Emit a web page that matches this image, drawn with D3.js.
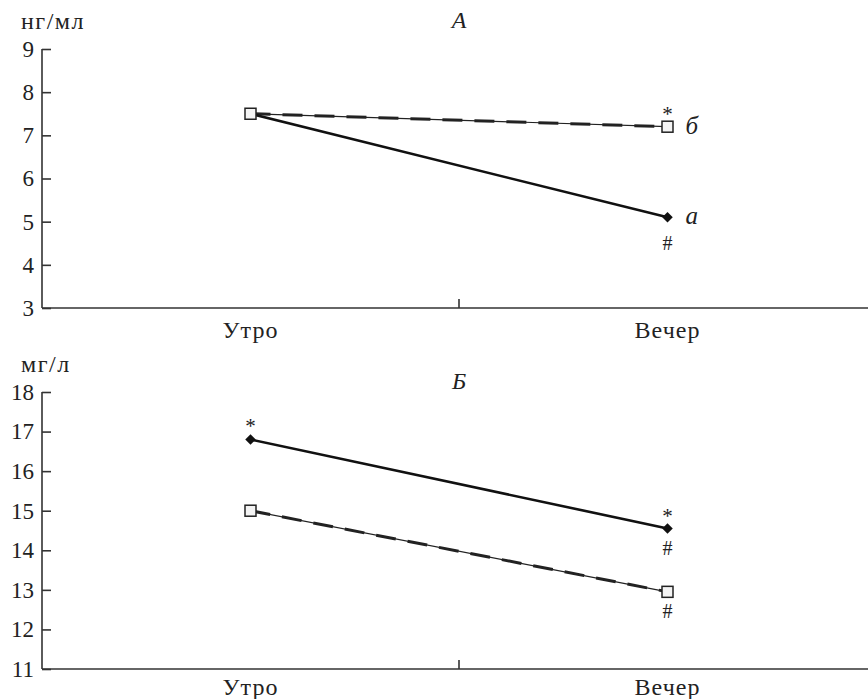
<!DOCTYPE html>
<html lang="ru">
<head>
<meta charset="UTF-8">
<script src="https://cdnjs.cloudflare.com/ajax/libs/d3/7.8.5/d3.min.js"></script>
<title>Утро / Вечер</title>
<style>
  body { margin: 0; background: #fff; }
  svg { display: block; }
  .axis path, .axis line { stroke: #333; stroke-width: 1.6; }
</style>
</head>
<body>
<svg width="868" height="699"></svg>
<script>
// categories
const times = ['Утро', 'Вечер']

// panel A, нг/мл
const panelA_a = [7.5, 5.1]
const panelA_b = [7.5, 7.2]
const panelA_ticks = [3, 4, 5, 6, 7, 8, 9]

// panel Б, мг/л
const panelB_a = [16.8, 14.55]
const panelB_b = [15.0, 12.95]
const panelB_ticks = [11, 12, 13, 14, 15, 16, 17, 18]

// significance marks: [time index, series, symbol, side]
const marksA = [[1, 'b', '*', 'above'], [1, 'a', '#', 'below']]
const marksB = [[0, 'a', '*', 'above'], [1, 'a', '*', 'above'], [1, 'a', '#', 'below'], [1, 'b', '#', 'below']]

const serif = "'Liberation Serif', 'Times New Roman', serif"
const svg = d3.select('svg')
const left = 42, right = 876

const panels = [
  {title: 'А', unit: 'нг/мл', a: panelA_a, b: panelA_b, ticks: panelA_ticks, marks: marksA,
   top: 49, bot: 308, titleY: 28, hashGap: 33, labelPad: 13, seriesLabels: true},
  {title: 'Б', unit: 'мг/л', a: panelB_a, b: panelB_b, ticks: panelB_ticks, marks: marksB,
   top: 392, bot: 669, titleY: 389, hashGap: 26, labelPad: 9, seriesLabels: false}
]

function txt(x, y, s, size, italic) {
  return svg.append('text')
    .attr('x', x).attr('y', y)
    .attr('font-family', serif)
    .attr('font-size', size)
    .attr('font-style', italic ? 'italic' : 'normal')
    .attr('fill', '#222')
    .text(s)
}

panels.forEach(p => {
  const x = d3.scaleBand().domain(times).range([left, right])
  const cx = d => x(d) + x.bandwidth() / 2
  const y = d3.scaleLinear()
    .domain(d3.extent(p.ticks))
    .range([p.bot, p.top])

  // y axis
  const ya = svg.append('g')
    .attr('class', 'axis')
    .attr('transform', 'translate(' + left + ',0)')
    .call(d3.axisLeft(y).tickValues(p.ticks).tickFormat(d3.format('d'))
      .tickSize(-9).tickPadding(8).tickSizeOuter(0))
  ya.attr('font-family', serif).attr('font-size', 23)
  ya.selectAll('text').attr('fill', '#222')
  ya.select('.domain').attr('d', 'M0,' + p.bot + 'V' + p.top)

  // x axis
  const xa = svg.append('g')
    .attr('class', 'axis')
    .attr('transform', 'translate(0,' + p.bot + ')')
    .call(d3.axisBottom(x).tickSize(0).tickPadding(p.labelPad).tickSizeOuter(0))
  xa.attr('font-family', serif).attr('font-size', 24)
  xa.selectAll('text').attr('fill', '#222').attr('letter-spacing', 1)
  xa.select('.domain').attr('d', 'M' + left + ',0H868')
  xa.append('line')
    .attr('x1', x(times[1])).attr('x2', x(times[1]))
    .attr('y1', 0).attr('y2', -9)

  // unit and title
  txt(21, p.top - 20, p.unit, 24, false).attr('letter-spacing', 1.5)
  txt(x(times[1]), p.titleY, p.title, 24, true).attr('text-anchor', 'middle')

  const line = d3.line().x((d, i) => cx(times[i])).y(d => y(d))

  // series б: dashed (thin line + thick dashes)
  svg.append('path').datum(p.b).attr('d', line)
    .attr('fill', 'none').attr('stroke', '#222').attr('stroke-width', 1.2)
  svg.append('path').datum(p.b).attr('d', line)
    .attr('fill', 'none').attr('stroke', '#222').attr('stroke-width', 3)
    .attr('stroke-dasharray', '20 12')

  // series а: solid
  svg.append('path').datum(p.a).attr('d', line)
    .attr('fill', 'none').attr('stroke', '#111').attr('stroke-width', 2.6)

  // markers
  const diamond = d3.symbol().type(d3.symbolDiamond2).size(70)
  svg.selectAll(null).data(p.a).enter().append('path')
    .attr('d', diamond)
    .attr('transform', (d, i) => 'translate(' + cx(times[i]) + ',' + y(d) + ')')
    .attr('fill', '#111')
  svg.selectAll(null).data(p.b).enter().append('rect')
    .attr('x', (d, i) => cx(times[i]) - 5.5)
    .attr('y', d => y(d) - 5.5)
    .attr('width', 11).attr('height', 11)
    .attr('fill', '#f4f4f4').attr('stroke', '#222').attr('stroke-width', 1.5)

  // series labels
  if (p.seriesLabels) {
    [['а', p.a], ['б', p.b]].forEach(([lab, vals]) => {
      txt(cx(times[1]) + 18, y(vals[1]) + 7, lab, 25, true)
    })
  }

  // significance marks
  p.marks.forEach(([ti, s, sym, side]) => {
    const v = (s === 'a' ? p.a : p.b)[ti]
    const isStar = sym === '*'
    const dy = side === 'above' ? -6 : p.hashGap
    txt(cx(times[ti]), y(v) + dy, sym, isStar ? 21 : 20, false)
      .attr('text-anchor', 'middle')
  })
})
</script>
</body>
</html>
